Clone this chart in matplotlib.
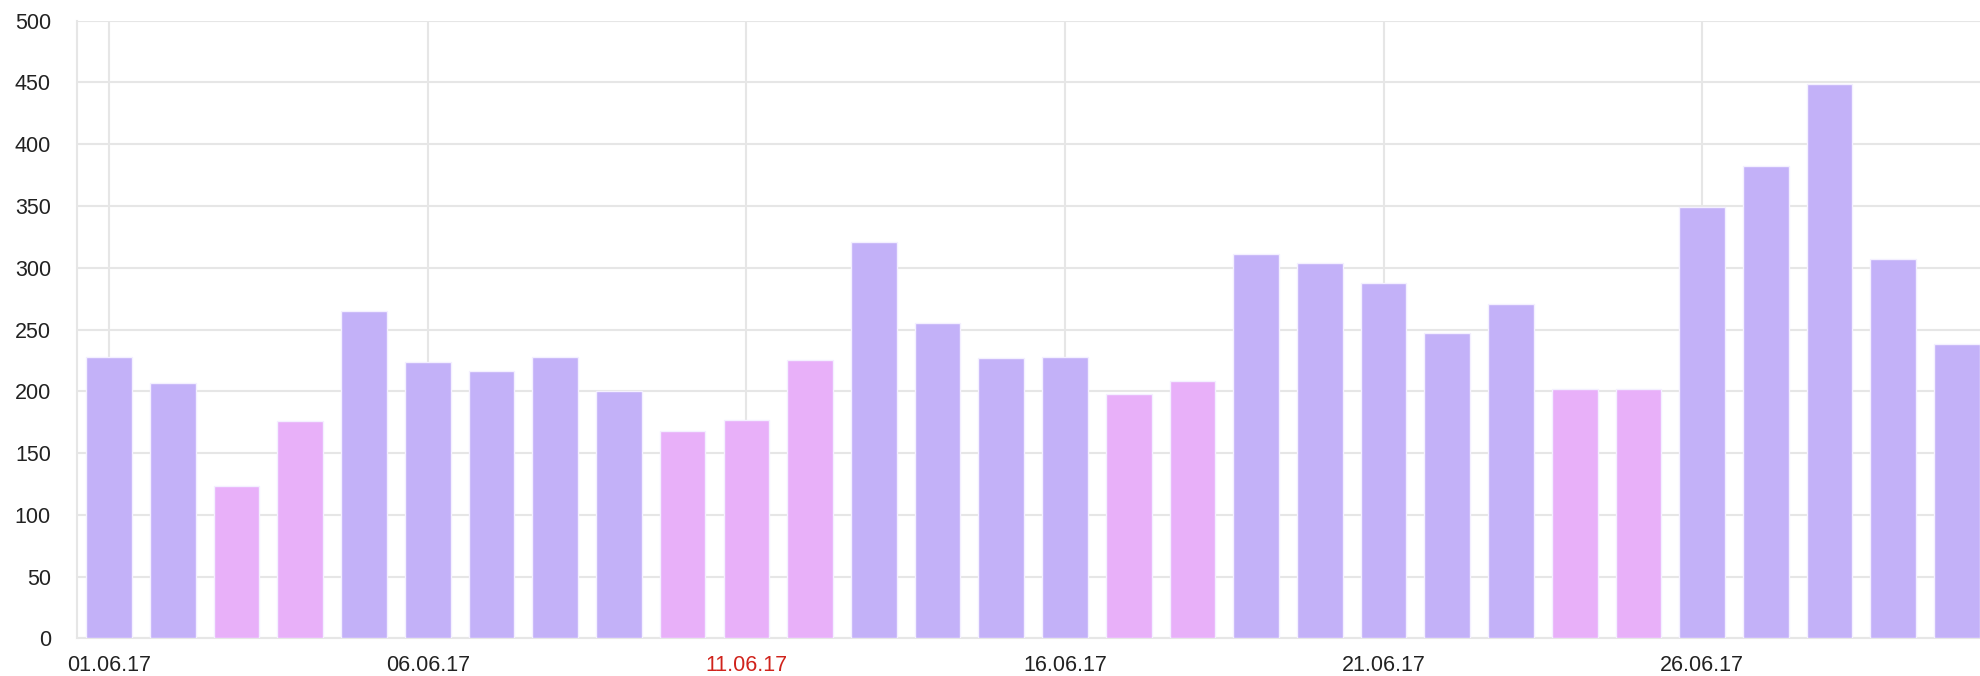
import matplotlib
matplotlib.use("Agg")
import matplotlib.pyplot as plt

# ---- data ----
dates = ["01.06.17", "02.06.17", "03.06.17", "04.06.17", "05.06.17",
         "06.06.17", "07.06.17", "08.06.17", "09.06.17", "10.06.17",
         "11.06.17", "12.06.17", "13.06.17", "14.06.17", "15.06.17",
         "16.06.17", "17.06.17", "18.06.17", "19.06.17", "20.06.17",
         "21.06.17", "22.06.17", "23.06.17", "24.06.17", "25.06.17",
         "26.06.17", "27.06.17", "28.06.17", "29.06.17", "30.06.17"]
values = [228, 207, 123, 176, 265, 224, 216, 228, 200, 168,
          177, 225, 321, 255, 227, 228, 198, 208, 311, 304,
          288, 247, 271, 202, 202, 349, 382, 449, 307, 238]
day_off = [0, 0, 1, 1, 0, 0, 0, 0, 0, 1,
           1, 1, 0, 0, 0, 0, 1, 1, 0, 0,
           0, 0, 0, 1, 1, 0, 0, 0, 0, 0]
label_every = 5
red_labels = ["11.06.17"]
y_ticks = [0, 50, 100, 150, 200, 250, 300, 350, 400, 450, 500]

# ---- style ----
c_work = "#C3B1F8"
c_off = "#E8B0F9"
grid_c = "#E6E6E6"
text_c = "#222222"
red_c = "#D0231C"

plt.rcParams['font.family'] = ['Liberation Sans', 'DejaVu Sans']

fig = plt.figure(figsize=(19.8, 6.76), dpi=100)
ax = fig.add_axes([77.3 / 1980, (676 - 638.3) / 676, 1 - 77.3 / 1980, (638.3 - 20.7) / 676])

x = list(range(len(values)))
colors = [c_off if d else c_work for d in day_off]
ax.bar(x, values, width=0.717, color=colors, edgecolor="#F4F0FF", linewidth=1.0, zorder=3)

ax.set_xlim(-0.5, 29.36)
ax.set_ylim(0, 500)

tick_pos = x[::label_every]
tick_lab = dates[::label_every]
ax.set_xticks(tick_pos)
ax.set_xticklabels(tick_lab)
ax.set_yticks(y_ticks)
ax.set_yticklabels([str(v) for v in y_ticks])

for lab in ax.get_xticklabels():
    lab.set_color(red_c if lab.get_text() in red_labels else text_c)
for lab in ax.get_yticklabels():
    lab.set_color(text_c)

ax.tick_params(axis='x', length=0, pad=12, labelsize=15.5)
ax.tick_params(axis='y', length=0, pad=19, labelsize=15.5)

ax.grid(True, color=grid_c, linewidth=1.5, zorder=0)
ax.set_axisbelow(True)

for side in ["top", "right"]:
    ax.spines[side].set_visible(False)
for side in ["left", "bottom"]:
    ax.spines[side].set_color(grid_c)
    ax.spines[side].set_linewidth(1.5)
    ax.spines[side].set_zorder(1)

fig.savefig("out.png", dpi=100, facecolor="white")
